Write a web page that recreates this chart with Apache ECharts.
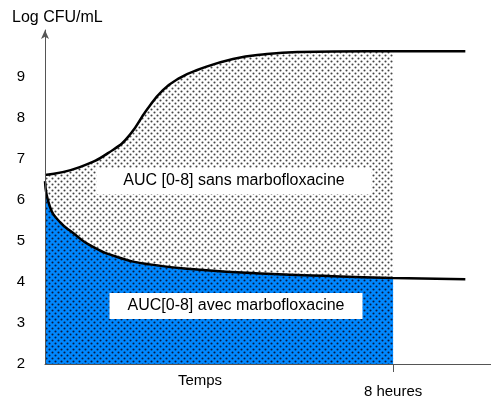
<!DOCTYPE html>
<html>
<head>
<meta charset="utf-8">
<script src="https://cdn.jsdelivr.net/npm/echarts@6/dist/echarts.min.js"></script>
<style>
  html, body { margin: 0; padding: 0; background: #fff; }
  #chart { width: 491px; height: 401px; }
</style>
</head>
<body>
<div id="chart"></div>
<script>
// heures
const upperTime = [0, 0.8, 1.56, 1.95, 2.34, 2.71, 3.1, 3.5, 4.32, 5.1, 5.86, 7.4, 8, 9.66]
// Log CFU/mL sans marbofloxacine
const upperVals = [6.61, 6.8, 7.22, 7.59, 8.2, 8.68, 8.98, 9.17, 9.44, 9.56, 9.61, 9.63, 9.63, 9.63]

const lowerTime = [0, 0.115, 0.345, 0.64, 1.03, 1.66, 2.41, 3.56, 5.1, 6.62, 8, 9.66]
// Log CFU/mL avec marbofloxacine
const lowerVals = [6.46, 5.83, 5.46, 5.2, 4.9, 4.61, 4.43, 4.3, 4.2, 4.14, 4.1, 4.07]

const yTicks = [2, 3, 4, 5, 6, 7, 8, 9]
const auc_end = 8

function pairs (xs, ys, maxX) {
  const out = []
  xs.forEach((x, i) => {
    if (maxX === undefined || x <= maxX) out.push([x, ys[i]])
  })
  return out
}

function dotPattern (bg, dot) {
  const c = document.createElement('canvas')
  c.width = 6
  c.height = 6
  const ctx = c.getContext('2d')
  if (bg) {
    ctx.fillStyle = bg
    ctx.fillRect(0, 0, 6, 6)
  }
  ctx.fillStyle = dot
  ctx.beginPath()
  ctx.arc(1.5, 1.5, 1.05, 0, Math.PI * 2)
  ctx.arc(4.5, 4.5, 1.05, 0, Math.PI * 2)
  ctx.fill()
  return { image: c, repeat: 'repeat' }
}

const chart = echarts.init(document.getElementById('chart'))
const font = 'Liberation Sans, Arial, sans-serif'

const option = {
  animation: false,
  textStyle: { fontFamily: font },
  grid: { left: 45, right: 0, top: 30, bottom: 37 },
  xAxis: {
    type: 'value',
    min: 0,
    max: 10.25,
    splitLine: { show: false },
    axisLine: { lineStyle: { color: '#555', width: 1 } },
    axisTick: { customValues: [auc_end], length: 8, lineStyle: { color: '#555' } },
    axisLabel: {
      customValues: [auc_end],
      formatter: v => v + ' heures',
      color: '#000',
      fontSize: 15,
      margin: 20
    }
  },
  yAxis: {
    type: 'value',
    min: 2,
    max: 10.146,
    interval: 1,
    z: 10,
    splitLine: { show: false },
    axisTick: { show: false },
    axisLine: {
      show: true,
      symbol: ['none', 'arrow'],
      symbolSize: [6, 9],
      lineStyle: { color: '#555', width: 1 }
    },
    axisLabel: {
      color: '#000',
      fontSize: 15,
      margin: 20,
      formatter: v => (yTicks.indexOf(v) >= 0 ? String(v) : '')
    }
  },
  series: [
    {
      type: 'line',
      data: pairs(upperTime, upperVals, auc_end),
      smooth: 0.5,
      showSymbol: false,
      lineStyle: { width: 0 },
      areaStyle: { origin: 'start', color: dotPattern(null, '#444'), opacity: 1 }
    },
    {
      type: 'line',
      data: pairs(lowerTime, lowerVals, auc_end),
      smooth: 0.5,
      showSymbol: false,
      lineStyle: { width: 0 },
      areaStyle: { origin: 'start', color: dotPattern('#0088ff', '#0a1a40'), opacity: 1 }
    },
    {
      type: 'line',
      data: pairs(upperTime, upperVals),
      smooth: 0.5,
      showSymbol: false,
      lineStyle: { color: '#000', width: 2.5 }
    },
    {
      type: 'line',
      data: pairs(lowerTime, lowerVals),
      smooth: 0.5,
      showSymbol: false,
      lineStyle: { color: '#000', width: 2.5 }
    }
  ],
  graphic: [
    {
      type: 'text',
      left: 12,
      top: 10,
      style: { text: 'Log CFU/mL', font: '16px ' + font, fill: '#000' }
    },
    {
      type: 'text',
      x: 200,
      y: 381,
      style: { text: 'Temps', font: '15px ' + font, fill: '#000', align: 'center', verticalAlign: 'middle' }
    },
    {
      type: 'text',
      x: 234,
      y: 181,
      z: 100,
      style: {
        text: 'AUC [0-8] sans marbofloxacine',
        font: '16px ' + font,
        fill: '#000',
        align: 'center',
        verticalAlign: 'middle',
        backgroundColor: '#fff',
        padding: [5, 27]
      }
    },
    {
      type: 'text',
      x: 236,
      y: 306,
      z: 100,
      style: {
        text: 'AUC[0-8] avec marbofloxacine',
        font: '16px ' + font,
        fill: '#000',
        align: 'center',
        verticalAlign: 'middle',
        backgroundColor: '#fff',
        padding: [5, 18]
      }
    }
  ]
}

chart.setOption(option)
</script>
</body>
</html>
